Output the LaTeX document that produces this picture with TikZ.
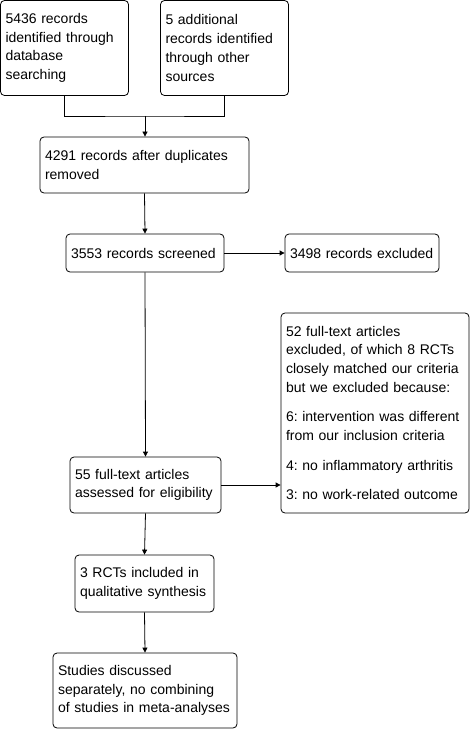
\documentclass[tikz,border=0pt]{standalone}
\usepackage{fontspec}
\setmainfont{Liberation Sans}
\frenchspacing
\usetikzlibrary{arrows.meta}
\begin{document}
\begin{tikzpicture}[x=1pt,y=-1pt,
  box/.style={draw, line width=0.8pt, rounded corners=4pt, align=left, inner xsep=5pt, inner ysep=0pt,
    font=\fontsize{14}{18.7}\selectfont\frenchspacing, anchor=center},
  conn/.style={line width=0.8pt},
  arr/.style={line width=0.8pt, -{Triangle[length=5pt,width=5pt]}}]
\useasboundingbox (0,0) rectangle (470,730);
\node[box, minimum width=128pt, minimum height=95pt, text width=118pt] (b1) at (64.5,48)
  {5436 records\\identified through\\database\\searching\\[-4pt]};
\node[box, minimum width=128pt, minimum height=95pt, text width=118pt] (b2) at (224.5,48)
  {5 additional\\records identified\\through other\\sources\\[-4pt]};
\node[box, minimum width=209pt, minimum height=56pt, text width=199pt] (b3) at (144.5,165)
  {4291 records after duplicates\\removed};
\node[box, minimum width=158pt, minimum height=38pt, text width=148pt] (b4) at (145,253)
  {3553 records screened};
\node[box, minimum width=154pt, minimum height=38pt, text width=144pt] (b5) at (362,253)
  {3498 records excluded};
\node[box, minimum width=188pt, minimum height=200pt, text width=178pt] (b6) at (375,413)
  {52 full-text articles\\excluded, of which 8 RCTs\\closely matched our criteria\\but we excluded because:\\[11pt]6: intervention was different\\from our inclusion criteria\\[11pt]4: no inflammatory arthritis\\[11pt]3: no work-related outcome};
\node[box, minimum width=151pt, minimum height=56pt, text width=141pt] (b7) at (145.5,485)
  {55 full-text articles\\assessed for eligibility};
\node[box, minimum width=139pt, minimum height=57pt, text width=129pt] (b8) at (144.5,583.5)
  {3 RCTs included in\\qualitative synthesis};
\node[box, minimum width=184pt, minimum height=75pt, text width=174pt] (b9) at (145,690.5)
  {Studies discussed\\separately, no combining\\of studies in meta-analyses};
\coordinate (m) at (145,116);
\draw[conn] (b1.south) |- (m) -| (b2.south);
\draw[arr] (m) -- (b3.north -| m);
\draw[arr] (b3.south) -- (b4.north);
\draw[arr] (b4.east) -- (b5.west);
\draw[arr] (b4.south) -- (b7.north);
\draw[arr] (b7.east) -- (b7.east -| b6.west);
\draw[arr] (b7.south) -- (b8.north);
\draw[arr] (b8.south) -- (b9.north);
\end{tikzpicture}
\end{document}
